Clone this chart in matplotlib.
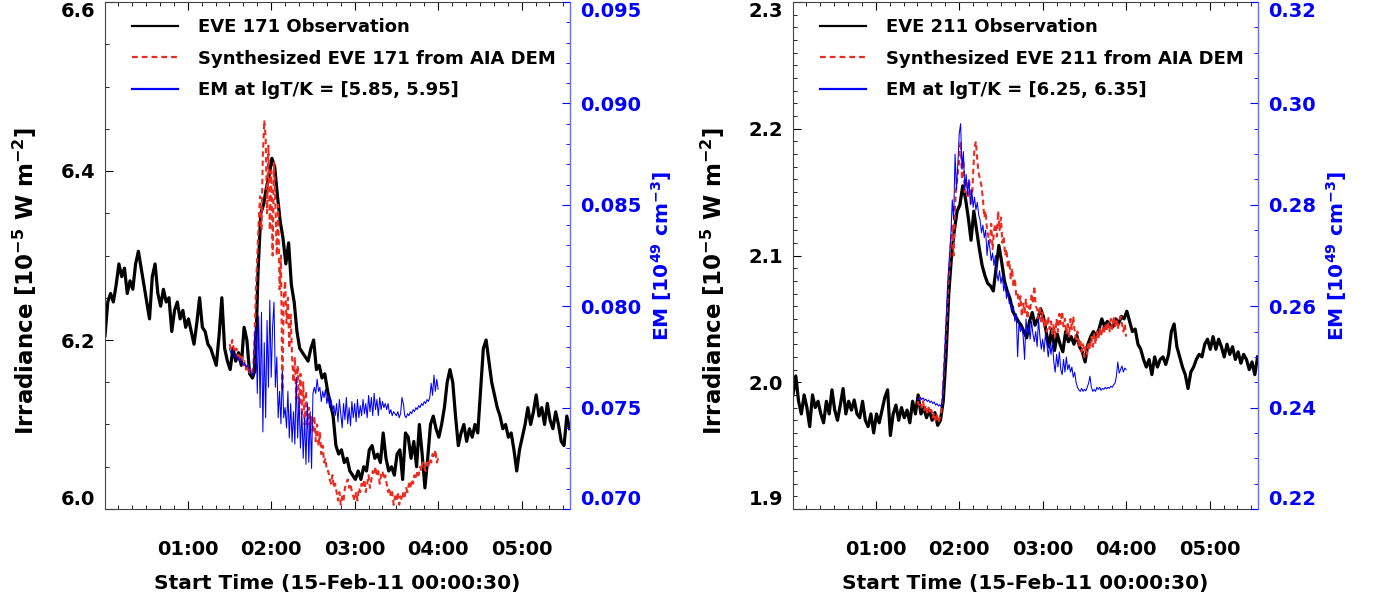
import numpy as np
import matplotlib.pyplot as plt
from matplotlib.lines import Line2D
from matplotlib.ticker import MultipleLocator

plt.rcParams['font.family'] = 'DejaVu Sans'
plt.rcParams['font.weight'] = 'bold'
plt.rcParams['axes.labelweight'] = 'bold'
plt.rcParams['mathtext.default'] = 'bf'

# ---------------------------------------------------------------
# EVE observations: 2-min samples starting 00:00:30 (hours of day)
# AIA DEM products: 1-min samples between 01:30 and 04:00
# ---------------------------------------------------------------
eve_start = 0.5 / 60
eve_step = 2.0 / 60
aia_start = 1.5
aia_step = 1.0 / 60

eve171_obs = [
    6.205, 6.245, 6.255, 6.245, 6.265, 6.29, 6.275, 6.285, 6.255, 6.27,
    6.26, 6.29, 6.305, 6.285, 6.265, 6.245, 6.225, 6.275, 6.29, 6.255,
    6.24, 6.26, 6.245, 6.25, 6.21, 6.235, 6.245, 6.225, 6.235, 6.215,
    6.225, 6.21, 6.195, 6.22, 6.25, 6.215, 6.21, 6.195, 6.19, 6.18,
    6.17, 6.205, 6.25, 6.19, 6.175, 6.165, 6.19, 6.175, 6.185, 6.17,
    6.215, 6.20, 6.16, 6.155, 6.165, 6.28, 6.35, 6.36, 6.38, 6.395,
    6.415, 6.405, 6.37, 6.34, 6.32, 6.29, 6.315, 6.265, 6.245, 6.21,
    6.19, 6.185, 6.18, 6.175, 6.19, 6.20, 6.165, 6.17, 6.155, 6.16,
    6.14, 6.125, 6.11, 6.075, 6.065, 6.07, 6.055, 6.06, 6.045, 6.04,
    6.035, 6.045, 6.035, 6.05, 6.045, 6.07, 6.075, 6.06, 6.065, 6.055,
    6.09, 6.06, 6.045, 6.05, 6.04, 6.065, 6.07, 6.035, 6.09, 6.085,
    6.06, 6.08, 6.05, 6.10, 6.065, 6.025, 6.06, 6.10, 6.11, 6.095,
    6.085, 6.10, 6.12, 6.15, 6.165, 6.15, 6.11, 6.075, 6.09, 6.10,
    6.08, 6.095, 6.085, 6.10, 6.09, 6.14, 6.19, 6.20, 6.175, 6.15,
    6.135, 6.12, 6.11, 6.095, 6.10, 6.085, 6.09, 6.07, 6.045, 6.07,
    6.085, 6.10, 6.12, 6.10, 6.115, 6.135, 6.11, 6.12, 6.10, 6.125,
    6.105, 6.095, 6.115, 6.10, 6.08, 6.075, 6.11, 6.095,
]

eve171_syn = [
    6.195, 6.19, 6.20, 6.19, 6.185, 6.19, 6.18, 6.185, 6.175, 6.18,
    6.17, 6.175, 6.165, 6.17, 6.16, 6.165, 6.16, 6.165,
    6.20, 6.26, 6.30, 6.34, 6.37, 6.33, 6.42, 6.46, 6.44, 6.35,
    6.43, 6.33, 6.40, 6.30, 6.41, 6.36, 6.30, 6.36, 6.26, 6.30,
    6.14, 6.25, 6.27, 6.22, 6.25, 6.19, 6.23, 6.18,
    6.15, 6.18, 6.13, 6.17, 6.12, 6.16, 6.11, 6.15, 6.10, 6.14,
    6.10, 6.12, 6.09, 6.11,
    6.09, 6.11, 6.08, 6.10, 6.075, 6.09, 6.065, 6.075, 6.055, 6.06,
    6.045, 6.045, 6.035, 6.03,
    6.04, 6.025, 6.03, 6.02, 6.01, 6.02, 6.005, 6.015, 6.01, 6.025,
    6.03, 6.035, 6.025, 6.03, 6.02, 6.015,
    6.01, 6.02, 6.01, 6.025, 6.02, 6.03, 6.025, 6.035, 6.02, 6.03,
    6.04, 6.025, 6.035, 6.045, 6.04, 6.05, 6.04, 6.045, 6.03, 6.04,
    6.045, 6.035, 6.04, 6.03, 6.02, 6.025, 6.015, 6.02, 6.005, 6.015,
    6.01, 6.02, 6.005, 6.015, 6.01, 6.02, 6.015, 6.025, 6.02, 6.03,
    6.025, 6.035, 6.03, 6.04, 6.035, 6.045, 6.04, 6.05, 6.045, 6.055,
    6.05, 6.045, 6.055, 6.05, 6.06, 6.055, 6.065, 6.06, 6.07, 6.055,
    6.06,
]

em171 = [
    0.0779, 0.0777, 0.0778, 0.0775, 0.0776, 0.0774, 0.0775, 0.0773, 0.0774, 0.0772,
    0.0771, 0.0772, 0.0770, 0.0771, 0.0769, 0.0768, 0.0767, 0.0766,
    0.0785, 0.0790, 0.0757, 0.0795, 0.0750, 0.0797, 0.0738, 0.0782, 0.0745, 0.0793,
    0.0760, 0.0803, 0.0765, 0.0790, 0.0802, 0.0760, 0.0775, 0.0745, 0.0758, 0.0742,
    0.0768, 0.0745,
    0.0750, 0.0740, 0.0758, 0.0735, 0.0752, 0.0733, 0.0748, 0.0732, 0.0765, 0.0735,
    0.0755, 0.0730, 0.0748, 0.0725, 0.0745, 0.0722, 0.0752, 0.0723, 0.0748, 0.0720,
    0.0757, 0.0760, 0.0757, 0.0764, 0.0758, 0.0760, 0.0753, 0.0758, 0.0755, 0.0759,
    0.0752, 0.0756, 0.0750, 0.0754, 0.0748, 0.0751, 0.0746, 0.0752, 0.0743, 0.0754,
    0.0747, 0.0740, 0.0752, 0.0744, 0.0755, 0.0742, 0.0750, 0.0741, 0.0753, 0.0745,
    0.0752, 0.0743, 0.0754, 0.0745, 0.0751, 0.0746, 0.0754, 0.0747, 0.0752, 0.0745,
    0.0756, 0.0748, 0.0755, 0.0746, 0.0757, 0.0749, 0.0754, 0.0746, 0.0755, 0.0749,
    0.0753, 0.0750, 0.0752, 0.0749, 0.0752, 0.0747, 0.0749, 0.0746, 0.0748, 0.0747,
    0.0746, 0.0748, 0.0745, 0.0747, 0.0755, 0.0752, 0.0746, 0.0745, 0.0747, 0.0746,
    0.0748, 0.0747, 0.0749, 0.0748, 0.0750, 0.0749, 0.0751, 0.0750, 0.0752, 0.0751,
    0.0753, 0.0752, 0.0754, 0.0753, 0.0755, 0.0762, 0.0756, 0.0766, 0.0758, 0.0764,
    0.0759,
]

eve211_obs = [
    1.99, 2.005, 1.985, 1.975, 1.99, 1.98, 1.965, 1.99, 1.98, 1.985,
    1.975, 1.968, 1.985, 1.975, 1.994, 1.978, 1.97, 1.982, 1.995, 1.975,
    1.985, 1.978, 1.986, 1.975, 1.972, 1.985, 1.97, 1.965, 1.975, 1.96,
    1.975, 1.968, 1.978, 1.988, 1.994, 1.958, 1.975, 1.982, 1.97, 1.98,
    1.972, 1.978, 1.968, 1.985, 1.975, 1.99, 1.975, 1.98, 1.972, 1.978,
    1.97, 1.976, 1.966, 1.97, 1.985, 2.02, 2.07, 2.10, 2.12, 2.135,
    2.14, 2.155, 2.145, 2.13, 2.112, 2.135, 2.12, 2.105, 2.092, 2.084,
    2.078, 2.076, 2.072, 2.09, 2.108, 2.095, 2.08, 2.072, 2.066, 2.056,
    2.052, 2.048, 2.045, 2.04, 2.035, 2.048, 2.055, 2.045, 2.05, 2.058,
    2.052, 2.04, 2.028, 2.042, 2.025, 2.038, 2.03, 2.024, 2.04, 2.032,
    2.036, 2.03, 2.037, 2.028, 2.024, 2.016, 2.03, 2.036, 2.04, 2.036,
    2.042, 2.05, 2.044, 2.048, 2.045, 2.044, 2.05, 2.046, 2.052, 2.05,
    2.056, 2.048, 2.04, 2.042, 2.03, 2.026, 2.018, 2.012, 2.018, 2.006,
    2.02, 2.012, 2.018, 2.02, 2.014, 2.022, 2.04, 2.046, 2.028, 2.02,
    2.012, 2.006, 1.995, 2.008, 2.012, 2.018, 2.022, 2.02, 2.03, 2.034,
    2.026, 2.036, 2.026, 2.034, 2.028, 2.02, 2.03, 2.022, 2.028, 2.018,
    2.024, 2.015, 2.022, 2.018, 2.01, 2.016, 2.006, 2.02,
]

eve211_syn = [
    1.985, 1.982, 1.988, 1.98, 1.985, 1.978, 1.982, 1.976, 1.98, 1.975,
    1.978, 1.972, 1.976, 1.97, 1.974, 1.968, 1.972, 1.975,
    1.99, 2.01, 2.03, 2.05, 2.075, 2.09, 2.11, 2.125, 2.10, 2.14,
    2.155, 2.165, 2.175, 2.19,
    2.16, 2.175, 2.15, 2.16, 2.145, 2.16, 2.15, 2.14, 2.165, 2.185,
    2.19, 2.175, 2.165, 2.16, 2.155, 2.145, 2.13, 2.135, 2.12, 2.115,
    2.11, 2.125, 2.105, 2.12, 2.125, 2.115, 2.135, 2.12, 2.13, 2.11,
    2.115, 2.10, 2.105, 2.09, 2.096, 2.082, 2.09, 2.075, 2.082, 2.068,
    2.07, 2.06, 2.068, 2.052, 2.062, 2.055, 2.066, 2.05, 2.06, 2.056,
    2.07, 2.062, 2.076, 2.06, 2.058, 2.05, 2.06, 2.048, 2.055, 2.044,
    2.05, 2.04, 2.052, 2.042, 2.048, 2.038, 2.046, 2.036, 2.05, 2.04,
    2.054, 2.046, 2.056, 2.044, 2.05, 2.038, 2.046, 2.036, 2.05, 2.042,
    2.052, 2.04, 2.034, 2.04, 2.028, 2.034, 2.024, 2.03, 2.02, 2.028,
    2.022, 2.032, 2.026, 2.036, 2.028, 2.038, 2.03, 2.04, 2.034, 2.042,
    2.036, 2.044, 2.038, 2.046, 2.04, 2.048, 2.04, 2.05, 2.042, 2.052,
    2.044, 2.05, 2.042, 2.048, 2.052, 2.046, 2.04, 2.046, 2.036,
]

em211 = [
    0.2418, 0.2415, 0.2420, 0.2416, 0.2419, 0.2414, 0.2417, 0.2412, 0.2415, 0.2410,
    0.2413, 0.2408, 0.2411, 0.2405, 0.2408, 0.2403, 0.2406, 0.2402,
    0.2415, 0.2475, 0.2540, 0.2600, 0.2660, 0.2700, 0.2740, 0.2810, 0.2770, 0.2900,
    0.2830, 0.2880, 0.2940, 0.2960, 0.2870, 0.2905, 0.2830, 0.2860, 0.2820, 0.2850,
    0.2800, 0.2830, 0.2795, 0.2815, 0.2790, 0.2805, 0.2780, 0.2770, 0.2745, 0.2760,
    0.2735, 0.2750, 0.2700, 0.2730, 0.2715, 0.2690, 0.2705, 0.2680, 0.2700, 0.2665,
    0.2650, 0.2670, 0.2645, 0.2660, 0.2630, 0.2645, 0.2615, 0.2630, 0.2605, 0.2610,
    0.2590, 0.2600, 0.2570, 0.2585, 0.2500, 0.2570, 0.2550, 0.2560, 0.2540, 0.2495,
    0.2575, 0.2545, 0.2560, 0.2535, 0.2570, 0.2545, 0.2530, 0.2550, 0.2520, 0.2575,
    0.2540, 0.2515, 0.2535, 0.2510, 0.2545, 0.2525, 0.2500, 0.2525, 0.2505, 0.2530,
    0.2490, 0.2470, 0.2505, 0.2480, 0.2510, 0.2475, 0.2465, 0.2495, 0.2470, 0.2500,
    0.2475, 0.2485, 0.2470, 0.2480, 0.2460, 0.2470, 0.2450, 0.2440, 0.2435, 0.2432,
    0.2438, 0.2432, 0.2436, 0.2433, 0.2440, 0.2448, 0.2462, 0.2440, 0.2432, 0.2436,
    0.2432, 0.2440, 0.2436, 0.2440, 0.2434, 0.2438, 0.2436, 0.2440, 0.2437, 0.2440,
    0.2438, 0.2442, 0.2440, 0.2445, 0.2448, 0.2462, 0.2490, 0.2468, 0.2475, 0.2482,
    0.2470, 0.2478, 0.2475,
]

panels = [
    dict(obs=eve171_obs, syn=eve171_syn, em=em171, line='171', bin='[5.85, 5.95]',
         ylim=(6.0, 6.6), yticks=[6.0, 6.2, 6.4, 6.6], yminor=0.05, yfmt='%.1f',
         emlim=(0.070, 0.095), emticks=[0.070, 0.075, 0.080, 0.085, 0.090, 0.095],
         emminor=0.001, emfmt='%.3f', left=105),
    dict(obs=eve211_obs, syn=eve211_syn, em=em211, line='211', bin='[6.25, 6.35]',
         ylim=(1.9, 2.3), yticks=[1.9, 2.0, 2.1, 2.2, 2.3], yminor=0.01, yfmt='%.1f',
         emlim=(0.22, 0.32), emticks=[0.22, 0.24, 0.26, 0.28, 0.30, 0.32],
         emminor=0.005, emfmt='%.2f', left=793),
]

RED = '#ec2b1f'
BLUE = '#0000ff'
DASH = (0, (2.6, 1.8))
W, H = 1383, 611

fig = plt.figure(figsize=(W / 100, H / 100), dpi=100)

for p in panels:
    ax = fig.add_axes([p['left'] / W, 102 / H, 465 / W, 507 / H])
    t_eve = eve_start + eve_step * np.arange(len(p['obs']))
    t_aia = aia_start + aia_step * np.arange(len(p['syn']))

    ax.plot(t_eve, p['obs'], color='black', lw=2.3)
    ax.plot(t_aia, p['syn'], color=RED, lw=1.5, ls=DASH)
    ax.set_xlim(eve_start, 5.58)
    ax.set_ylim(*p['ylim'])

    ax2 = ax.twinx()
    ax2.plot(t_aia, p['em'], color=BLUE, lw=0.75)
    ax2.set_ylim(*p['emlim'])

    # x axis: hours of the day
    ax.set_xticks([1, 2, 3, 4, 5], ['01:00', '02:00', '03:00', '04:00', '05:00'])
    ax.xaxis.set_minor_locator(MultipleLocator(1 / 6))
    ax.tick_params(axis='x', which='both', direction='in', top=True, labelsize=14, pad=22)
    ax.tick_params(axis='x', which='major', length=6)
    ax.tick_params(axis='x', which='minor', length=3)
    ax.set_xlabel('Start Time (15-Feb-11 00:00:30)', fontsize=14.5, labelpad=11)

    # left axis: irradiance
    ax.set_yticks(p['yticks'], [p['yfmt'] % v for v in p['yticks']])
    ax.yaxis.set_minor_locator(MultipleLocator(p['yminor']))
    ax.tick_params(axis='y', which='both', direction='in', right=False, labelsize=14, pad=7)
    ax.tick_params(axis='y', which='major', length=6)
    ax.tick_params(axis='y', which='minor', length=3)
    ax.set_ylabel(r'Irradiance [10$^{-5}$ W m$^{-2}$]', fontsize=16.5)
    ax.yaxis.set_label_coords(-0.142, 0.45)
    ylabels = ax.get_yticklabels()
    ylabels[0].set_va('bottom')
    ylabels[-1].set_va('top')

    # right axis: emission measure
    ax2.set_yticks(p['emticks'], [p['emfmt'] % v for v in p['emticks']])
    ax2.yaxis.set_minor_locator(MultipleLocator(p['emminor']))
    ax2.tick_params(axis='y', which='both', direction='in', colors=BLUE, labelsize=14, pad=7)
    ax2.tick_params(axis='y', which='major', length=6)
    ax2.tick_params(axis='y', which='minor', length=3)
    ax2.set_ylabel(r'EM [10$^{49}$ cm$^{-3}$]', color=BLUE, fontsize=14.5, labelpad=6)
    emlabels = ax2.get_yticklabels()
    emlabels[0].set_va('bottom')
    emlabels[-1].set_va('top')

    for side in ['left', 'top', 'bottom']:
        ax.spines[side].set_color('#444444')
        ax.spines[side].set_linewidth(0.8)
        ax2.spines[side].set_visible(False)
    ax.spines['right'].set_visible(False)
    ax2.spines['right'].set_color('#6a6aff')
    ax2.spines['right'].set_linewidth(1.0)

    # legend keys drawn a little heavier than the data lines
    handles = [Line2D([], [], color='black', lw=1.6),
               Line2D([], [], color=RED, lw=1.6, ls=DASH),
               Line2D([], [], color=BLUE, lw=1.6)]
    ax2.legend(handles,
               ['EVE %s Observation' % p['line'],
                'Synthesized EVE %s from AIA DEM' % p['line'],
                'EM at lgT/K = %s' % p['bin']],
               loc='upper left', bbox_to_anchor=(0.058, 0.968), frameon=False,
               fontsize=13, handlelength=2.55, handletextpad=1.1,
               labelspacing=0.75, borderpad=0, borderaxespad=0)

fig.savefig('out.png', dpi=100)
